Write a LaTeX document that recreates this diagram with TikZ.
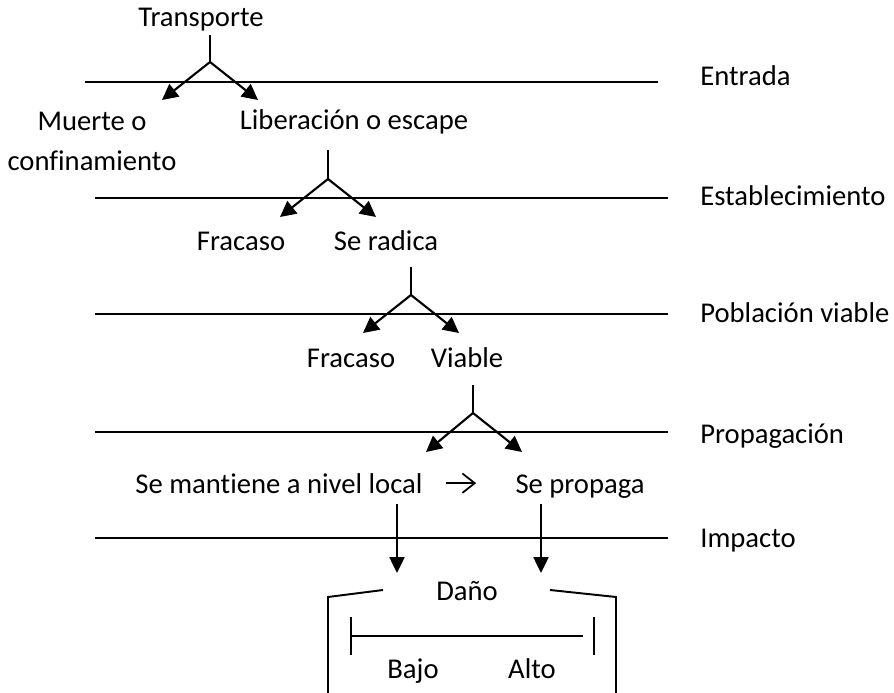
\documentclass[tikz,border=0pt]{standalone}
\usepackage{fontspec}
\setmainfont{Carlito}[Ligatures=NoCommon]
\usetikzlibrary{arrows.meta, positioning}
\tikzset{
  lbl/.style={inner sep=0pt, align=center, anchor=base},
  stage/.style={inner sep=0pt, anchor=base west},
  level/.style={line width=1.1pt},
  stem/.style={line width=1.2pt},
  branch/.style={-{Triangle[length=9pt,width=9pt]}, line width=1.2pt},
  down/.style={-{Triangle[length=9pt,width=8.5pt]}, line width=1.2pt},
  side/.style={-{Straight Barb[length=7pt,width=11pt]}, line width=1pt},
  bracket/.style={line width=1.1pt},
  every node/.style={font=\fontsize{16.3}{22.7}\selectfont}
}
\begin{document}
\begin{tikzpicture}[x=0.02cm, y=-0.02cm]
    \useasboundingbox (0,0) rectangle (894,693);

    % stage levels
    \node[stage] (entrada) at (700,85) {Entrada};
    \node[stage] (establ) at (700,205) {Establecimiento};
    \node[stage] (poblac) at (700,322) {Población viable};
    \node[stage] (propag) at (700,443) {Propagación};
    \node[stage] (impacto) at (700,547) {Impacto};
    \draw[level] (85,82) -- (658,82);
    \draw[level] (95,198) -- (668,198);
    \draw[level] (95,314) -- (668,314);
    \draw[level] (95,432) -- (668,432);
    \draw[level] (95,538) -- (668,538);

    % entrada
    \node[lbl] (transp) at (201,27) {Transporte};
    \coordinate (s1) at (210,35);
    \coordinate (v1) at (210,62);
    \coordinate (m1) at (162,100);
    \coordinate (l1) at (258,100);
    \draw[stem] (s1) -- (v1);
    \draw[branch] (v1) -- (m1);
    \draw[branch] (v1) -- (l1);
    \node[lbl] (muerte) at (92,170) {Muerte o\\confinamiento};
    \node[lbl] (libera) at (354,130) {Liberación o escape};

    % establecimiento
    \coordinate (s2) at (328,150);
    \coordinate (v2) at (328,179);
    \coordinate (f2) at (280,217);
    \coordinate (r2) at (376,217);
    \draw[stem] (s2) -- (v2);
    \draw[branch] (v2) -- (f2);
    \draw[branch] (v2) -- (r2);
    \node[lbl] (fracaso1) at (241,250) {Fracaso};
    \node[lbl] (radica) at (386,250) {Se radica};

    % poblacion viable
    \coordinate (s3) at (411,267);
    \coordinate (v3) at (411,295);
    \coordinate (f3) at (363,333);
    \coordinate (r3) at (459,333);
    \draw[stem] (s3) -- (v3);
    \draw[branch] (v3) -- (f3);
    \draw[branch] (v3) -- (r3);
    \node[lbl] (fracaso2) at (351,367) {Fracaso};
    \node[lbl] (viable) at (467,367) {Viable};

    % propagacion
    \coordinate (s4) at (473,385);
    \coordinate (v4) at (473,413);
    \coordinate (f4) at (426,452);
    \coordinate (r4) at (522,452);
    \draw[stem] (s4) -- (v4);
    \draw[branch] (v4) -- (f4);
    \draw[branch] (v4) -- (r4);
    \node[lbl] (local) at (279,493) {Se mantiene a nivel local};
    \node[lbl] (propaga) at (580,493) {Se propaga};
    \draw[side, shorten <=0.46cm, shorten >=0.78cm] (local.east) -- (local.east -| propaga.west);

    % impacto
    \coordinate (t1) at (397,504);
    \coordinate (d1) at (397,573);
    \coordinate (t2) at (541,504);
    \coordinate (d2) at (541,573);
    \draw[down] (t1) -- (d1);
    \draw[down] (t2) -- (d2);
    \node[lbl] (dano) at (467,600) {Daño};
    \draw[bracket] (383,590) -- (328,597) -- (328,693);
    \draw[bracket] (550,590) -- (616,597) -- (616,693);

    % escala
    \coordinate (bl) at (351,636);
    \coordinate (br) at (583,636);
    \draw[bracket] (bl) -- (br);
    \draw[bracket] (351,617) -- (351,655);
    \draw[bracket] (594,617) -- (594,655);
    \node[lbl] (bajo) at (413,678) {Bajo};
    \node[lbl] (alto) at (532,678) {Alto};
\end{tikzpicture}
\end{document}
